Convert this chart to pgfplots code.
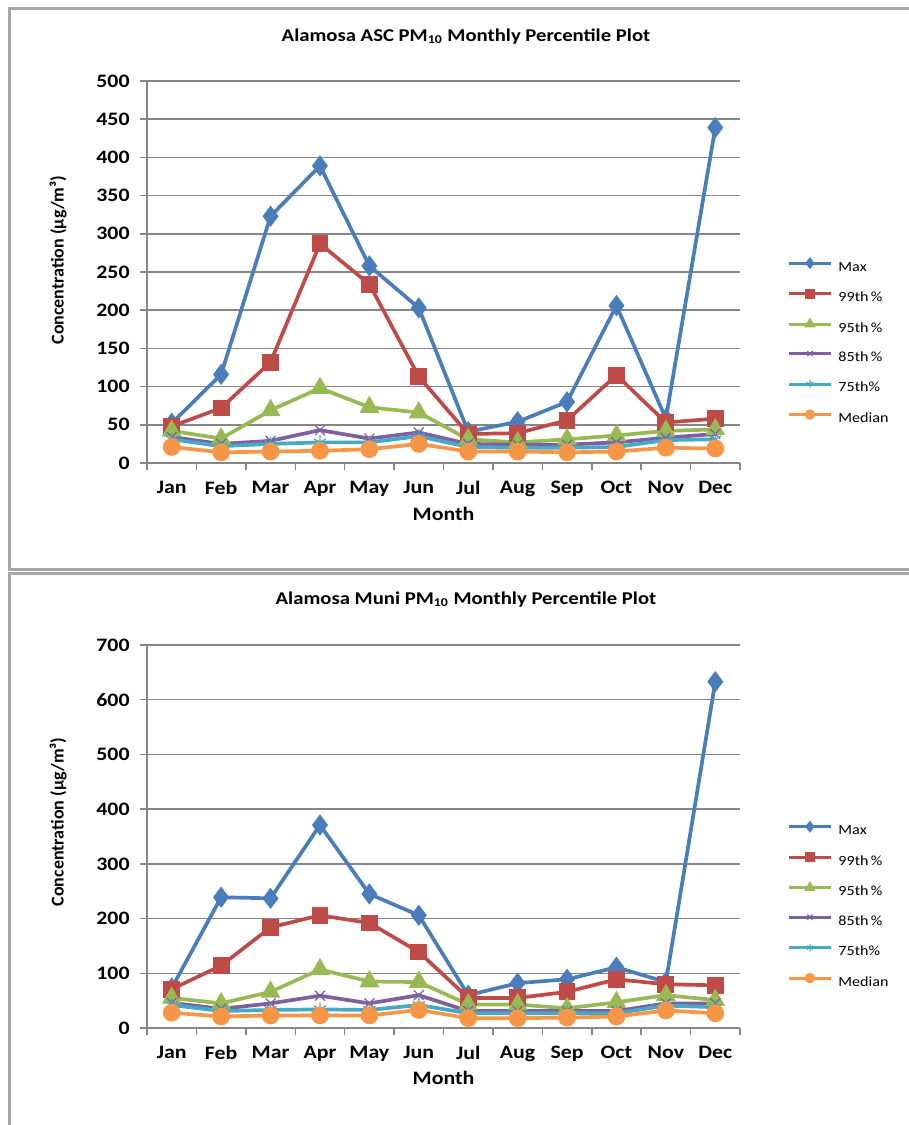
\documentclass[border=0pt]{standalone}
\usepackage{pgfplots}
\pgfplotsset{compat=1.18}
\usepackage{pgfplotstable}
\usepackage{fontspec}
\setmainfont{Carlito}[FakeStretch=1.15]
\newfontfamily\ylabfont{Carlito}

\definecolor{cmax}{HTML}{4A7EBB}
\definecolor{c99}{HTML}{BE4B48}
\definecolor{c95}{HTML}{98B954}
\definecolor{c85}{HTML}{7D60A0}
\definecolor{c75}{HTML}{46AAC5}
\definecolor{cmed}{HTML}{F79646}
\definecolor{gridgray}{HTML}{868686}
\definecolor{framegray}{HTML}{A6A6A6}

\pgfplotstableread{
m  max p99 p95 p85 p75 med
0  52  48  42  34  31  21
1  116 72  32  25  22  14
2  323 132 69  29  25  15
3  389 287 98  43  27  16
4  258 234 73  32  27  18
5  203 113 66  40  35  25
6  41  38  31  25  21  15
7  54  39  27  24  20  15
8  80  56  31  24  20  14
9  206 115 36  27  21  15
10 58  53  42  33  30  20
11 439 58  44  38  31  19
}\asc

\pgfplotstableread{
m  max p99 p95 p85 p75 med
0  73  71  55  46  42  28
1  239 114 45  35  31  21
2  237 184 66  45  33  23
3  371 206 107 59  34  23
4  245 192 85  45  33  23
5  206 139 84  60  42  33
6  60  55  43  31  27  18
7  82  55  43  31  27  18
8  89  66  36  31  27  19
9  111 89  47  31  27  21
10 84  80  60  45  41  32
11 633 78  51  45  38  27
}\muni

\pgfplotsset{
  pct/.style={
    scale only axis,
    width=296.5pt,
    xmin=-0.5, xmax=11.5,
    ymin=0,
    axis x line*=bottom, axis y line*=left,
    axis line style={gridgray, line width=0.75pt},
    ymajorgrids,
    grid style={gridgray, line width=0.75pt},
    tick align=outside,
    major tick length=3.5pt,
    tick style={gridgray, line width=0.75pt},
    xtick={-0.5,0.5,...,11.5},
    xticklabels={},
    extra x ticks={0,1,2,3,4,5,6,7,8,9,10,11},
    extra x tick labels={Jan,Feb,Mar,Apr,May,Jun,Jul,Aug,Sep,Oct,Nov,Dec},
    extra x tick style={major tick length=0pt, grid=none},
    /pgf/number format/assume math mode=true,
    tick label style={font=\fontsize{9.5}{11}\selectfont\bfseries},
    yticklabel style={inner sep=0pt, xshift=-5pt},
    xticklabel style={yshift=-5.5pt},
    every axis title shift=0pt,
    title style={anchor=center, font=\fontsize{9}{10}\selectfont\bfseries},
    xlabel={Month},
    xlabel style={anchor=center, font=\fontsize{9.5}{11}\selectfont\bfseries},
    ylabel={Concentration (µg/m³)},
    ylabel style={anchor=center, font=\ylabfont\fontsize{9}{10}\selectfont\bfseries},
    legend cell align=left,
    legend style={draw=none, fill=none, anchor=west, inner sep=0pt,
      row sep=8pt, font=\fontsize{7}{8}\selectfont,
      nodes={inner sep=0pt, text height=5pt, text depth=1.5pt},
      /tikz/every odd column/.append style={column sep=3pt}},
    legend image code/.code={\draw[mark repeat=2,mark phase=2,#1] plot coordinates {(0pt,2.2pt) (10.5pt,2.2pt) (21pt,2.2pt)};},
    legend image post style={mark size=1.8pt, line width=1.5pt},
    every axis plot/.append style={line width=1.85pt},
  }
}

\newcommand{\series}[1]{%
  \addplot[cmax, mark=diamond*, mark size=3.8pt] table[x=m,y=max]{#1};
  \addplot[c99, mark=square*, mark size=3.3pt] table[x=m,y=p99]{#1};
  \addplot[c95, mark=triangle*, mark size=3.9pt] table[x=m,y=p95]{#1};
  \addplot[c85, mark=x, mark size=3.5pt, mark options={line width=0.6pt}] table[x=m,y=p85]{#1};
  \addplot[c75, mark=asterisk, mark size=3.5pt, mark options={line width=0.6pt}] table[x=m,y=p75]{#1};
  \addplot[cmed, mark=*, mark size=3.5pt] table[x=m,y=med]{#1};
  \legend{Max,99th\,\%,95th\,\%,85th\,\%,75th\%,Median}
}

\begin{document}
\begin{tikzpicture}
\useasboundingbox (0pt,0pt) rectangle (454.5pt,-562.5pt);
\draw[framegray, line width=1.5pt] (4.5pt,-4pt) rectangle (460pt,-284.5pt);
\draw[framegray, line width=1.5pt] (4.5pt,-286.5pt) rectangle (460pt,-570pt);

\begin{axis}[pct,
  at={(73.5pt,-231.5pt)}, anchor=south west,
  height=191pt, ymax=500,
  ytick={0,50,...,500},
  title={Alamosa ASC PM\textsubscript{10} Monthly Percentile Plot},
  title style={at={(axis description cs:0.538,1.115)}},
  xlabel style={at={(axis description cs:0.5,-0.1335)}},
  ylabel style={at={(axis description cs:-0.150,0.531)}},
  legend style={at={(1.0793,0.3155)}},
]
\series{\asc}
\end{axis}

\begin{axis}[pct,
  at={(73.5pt,-514pt)}, anchor=south west,
  height=191.5pt, ymax=700,
  ytick={0,100,...,700},
  title={Alamosa Muni PM\textsubscript{10} Monthly Percentile Plot},
  title style={at={(axis description cs:0.538,1.1175)}},
  xlabel style={at={(axis description cs:0.5,-0.1305)}},
  ylabel style={at={(axis description cs:-0.150,0.538)}},
  legend style={at={(1.0793,0.3185)}},
]
\series{\muni}
\end{axis}
\end{tikzpicture}
\end{document}
